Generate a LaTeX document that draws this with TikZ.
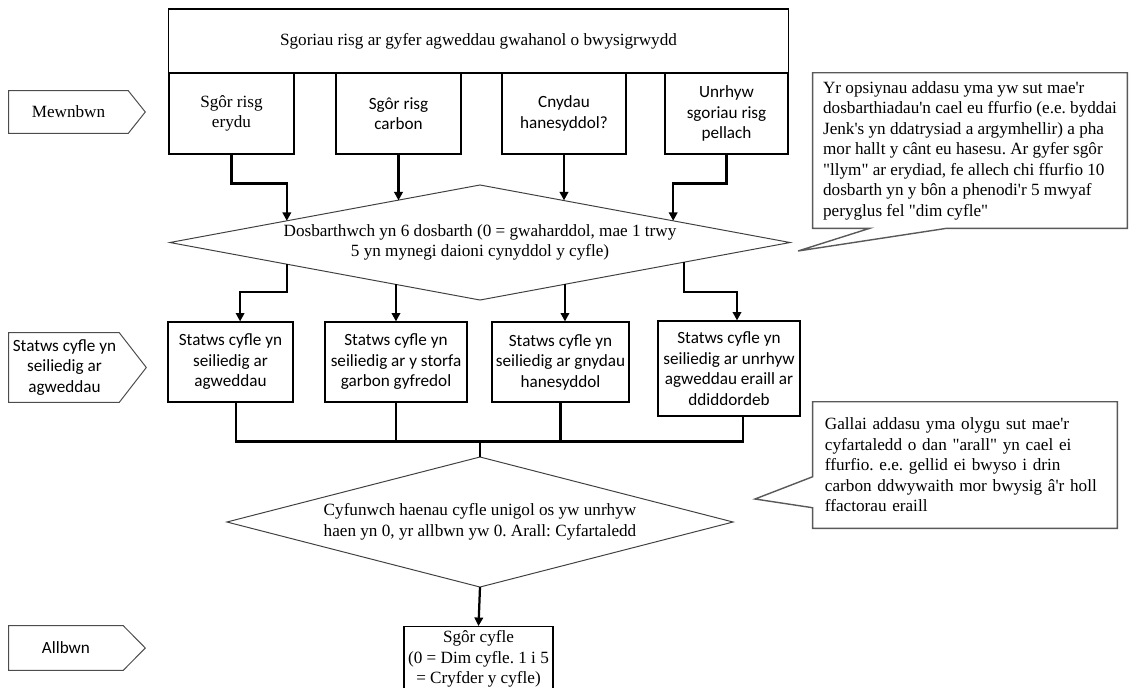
\documentclass[tikz,border=0pt]{standalone}
\usepackage{fontspec}
\setmainfont{Liberation Serif}[Ligatures=TeXOff]
\newfontfamily\calfont{Carlito}
\usetikzlibrary{shapes.geometric,arrows.meta,calc}
\newcommand\fsz{\fontsize{12.2}{14.6}\selectfont}
\frenchspacing
\tikzset{
  box/.style={draw, line width=0.8pt, inner sep=1pt, align=center, font=\fsz},
  sbox/.style={box, font=\calfont\fsz},
  decide/.style={draw=black!75, line width=0.7pt, shape=diamond, inner sep=0pt, outer sep=0pt},
  conn/.style={line width=1.6pt, -{Triangle[length=6pt,width=6pt]}},
  bus/.style={line width=1.6pt},
  note/.style={inner ysep=0pt, align=left, font=\fsz},
  noteline/.style={draw=black!65, line width=1pt},
  tag/.style={inner sep=0pt, align=center},
  tagline/.style={draw=black!70, line width=0.7pt}
}
\begin{document}
\begin{tikzpicture}[x=0.025cm, y=-0.025cm]
\useasboundingbox (0,0) rectangle (1136,687);

\node[box, minimum width=15.475cm, minimum height=1.6cm] (title) at (478.5,41)
  {Sgoriau risg ar gyfer agweddau gwahanol o bwysigrwydd};

\node[box, minimum width=3.125cm, minimum height=2.025cm] (r1) at (231.5,113.5) {Sgôr risg\\erydu};
\node[sbox, minimum width=3.125cm, minimum height=2.025cm] (r2) at (398.5,113.5) {Sgôr risg\\carbon};
\node[sbox, minimum width=3.1cm, minimum height=2.025cm] (r3) at (564,113.5) {Cnydau\\hanesyddol?};
\node[sbox, minimum width=3.075cm, minimum height=2.025cm] (r4) at (726.5,113.5) {Unrhyw\\sgoriau risg\\pellach};

\node[decide, minimum width=15.5cm, minimum height=2.875cm] (d1) at (480,242.5) {};
\node[align=center, font=\fsz] (d1txt) at (d1.center)
  {Dosbarthwch yn 6 dosbarth (0 = gwaharddol, mae 1 trwy\\5 yn mynegi daioni cynyddol y cyfle)};

\node[sbox, minimum width=3.125cm, minimum height=2cm] (s1) at (230.5,362) {Statws cyfle yn\\seiliedig ar\\agweddau};
\node[sbox, minimum width=3.55cm, minimum height=2cm] (s2) at (396,362) {Statws cyfle yn\\seiliedig ar y storfa\\garbon gyfredol};
\node[sbox, minimum width=3.425cm, minimum height=2cm] (s3) at (560.5,362) {Statws cyfle yn\\seiliedig ar gnydau\\hanesyddol};
\node[sbox, minimum width=3.55cm, minimum height=2.375cm] (s4) at (729,368.5) {Statws cyfle yn\\seiliedig ar unrhyw\\agweddau eraill ar\\ddiddordeb};

\node[decide, minimum width=12.65cm, minimum height=3.25cm] (d2) at (480,522) {};
\node[align=center, font=\fsz] (d2txt) at (d2.center)
  {Cyfunwch haenau cyfle unigol os yw unrhyw\\haen yn 0, yr allbwn yw 0. Arall: Cyfartaledd};

\node[box, anchor=north, minimum width=3.725cm, inner ysep=0.1cm] (out) at (478.5,626)
  {Sgôr cyfle\\(0 = Dim cyfle. 1 i 5\\= Cryfder y cyfle)};

\node[tag, font=\fsz, minimum width=2.975cm, minimum height=1.05cm] (inp) at (68.5,112) {Mewnbwn};
\draw[tagline] (inp.north west) -- (inp.north east) -- ([xshift=0.425cm]inp.east) -- (inp.south east) -- (inp.south west) -- cycle;
\node[tag, font=\calfont\fsz, minimum width=2.725cm, minimum height=1.725cm] (stat) at (64.5,367.5) {Statws cyfle yn\\seiliedig ar\\agweddau};
\draw[tagline] ([xshift=-0.025cm]stat.north west) -- (stat.north east) -- ([xshift=0.675cm]stat.east) -- (stat.south east) -- ([xshift=-0.025cm]stat.south west) -- cycle;
\node[tag, font=\calfont\fsz, minimum width=2.85cm, minimum height=1.1cm] (outp) at (66,648) {Allbwn};
\draw[tagline] (outp.north west) -- (outp.north east) -- ([xshift=0.55cm]outp.east) -- (outp.south east) -- (outp.south west) -- cycle;

\node[note, inner xsep=0pt, minimum width=7.85cm, minimum height=3.875cm] (n1) at (970,150.5)
  {Yr opsiynau addasu yma yw sut mae'r\\
   dosbarthiadau'n cael eu ffurfio (e.e. byddai\\
   Jenk's yn ddatrysiad a argymhellir) a pha\\
   mor hallt y cânt eu hasesu. Ar gyfer sgôr\\
   "llym" ar erydiad, fe allech chi ffurfio 10\\
   dosbarth yn y bôn a phenodi'r 5 mwyaf\\
   peryglus fel "dim cyfle"};
\coordinate (t1) at (798,251);
\draw[noteline] (n1.south west) -- (n1.north west) -- (n1.north east) -- (n1.south east)
  -- ([xshift=3.35cm]n1.south west) -- (t1) -- ([xshift=1.425cm]n1.south west) -- cycle;

\node[note, inner xsep=0.3cm, text width=7cm, minimum width=7.6cm, minimum height=3.15cm] (n2) at (965,465)
  {Gallai addasu yma olygu sut mae'r\\
   cyfartaledd o dan "arall" yn cael ei\\
   ffurfio. e.e. gellid ei bwyso i drin\\
   carbon ddwywaith mor bwysig â'r holl\\
   ffactorau eraill};
\coordinate (t2) at (755,499);
\draw[noteline] (n2.north west) -- (n2.north east) -- (n2.south east) -- (n2.south west)
  -- ([yshift=-2.65cm]n2.north west) -- (t2) -- ([yshift=-1.875cm]n2.north west) -- cycle;

\coordinate (e1) at ($(d1.west)!0.377!(d1.north)$);
\coordinate (e2) at ($(d1.west)!0.732!(d1.north)$);
\coordinate (e3) at ($(d1.north)!0.268!(d1.east)$);
\coordinate (e4) at ($(d1.north)!0.623!(d1.east)$);
\coordinate (f1) at ($(d1.west)!0.377!(d1.south)$);
\coordinate (f2) at ($(d1.west)!0.729!(d1.south)$);
\coordinate (f3) at ($(d1.south)!0.274!(d1.east)$);
\coordinate (f4) at ($(d1.south)!0.658!(d1.east)$);

\draw[conn] (r1.south) -- ++(0,29) -| (e1);
\draw[conn] (r2.south) -- (r2.south |- e2);
\draw[conn] (r3.south) -- (r3.south |- e3);
\draw[conn] (r4.south) -- ++(0,29) -| (e4);

\draw[conn] (f1) -- ++(0,28) -| ([xshift=0.24cm]s1.north);
\draw[conn] (f2) -- (f2 |- s2.north);
\draw[conn] (f3) -- (f3 |- s3.north);
\draw[conn] (f4) -- ++(0,30) -| ([xshift=0.2cm]s4.north);

\draw[bus] ([xshift=0.14cm]s1.south) -- ++(0,39) -| ([xshift=0.35cm]s4.south);
\draw[bus] (s2.south) -- ++(0,39);
\draw[bus] (s3.south) -- ++(0,39);
\draw[bus] (d2.north) -- ++(0,-16);
\draw[conn] (d2.south) -- (out.north);
\end{tikzpicture}
\end{document}
